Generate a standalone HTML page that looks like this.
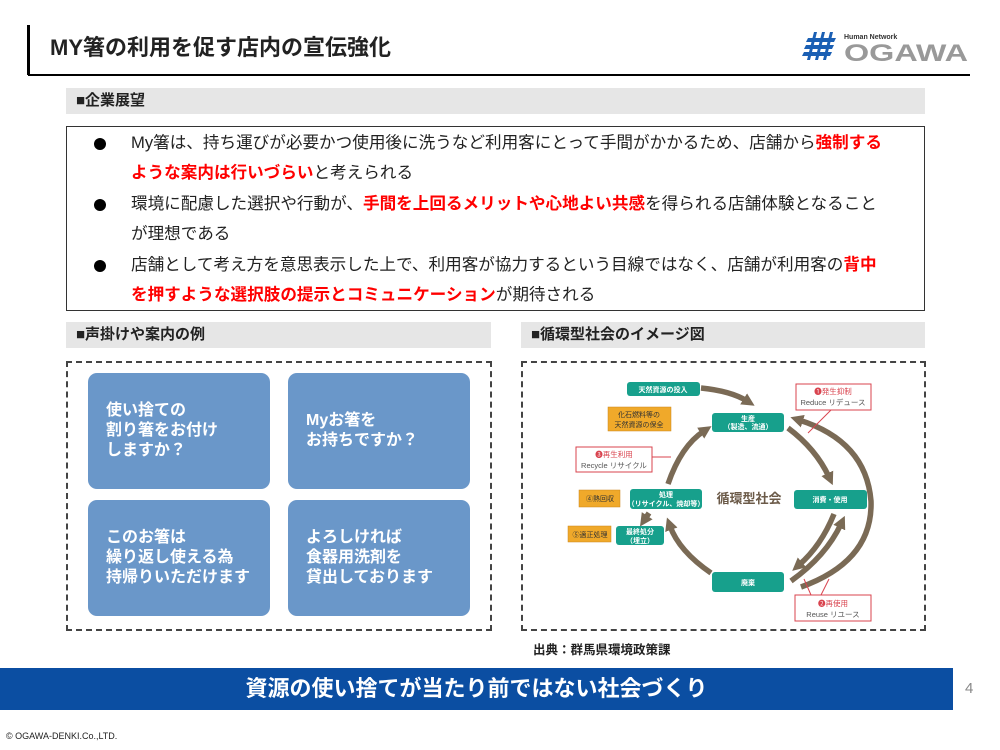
<!DOCTYPE html>
<html><head><meta charset="utf-8"><style>
*{margin:0;padding:0;box-sizing:border-box}
body{width:1000px;height:750px;background:#fff;position:relative;overflow:hidden;font-family:"Liberation Sans","Noto Sans CJK JP",sans-serif;color:#222}
.a{position:absolute}
.hdr{position:absolute;background:#e6e6e6;font-weight:bold;font-size:15px;padding-left:10px;line-height:26px}
.r{color:#f00;font-weight:bold}
.ln{position:absolute;left:131px;font-size:16.6px;white-space:nowrap;line-height:20px}
.bul{position:absolute;left:94px;width:12px;height:12px;border-radius:50%;background:#000}
.card{position:absolute;width:182px;height:116px;background:#6a97c9;border-radius:9px;color:#fff;font-weight:bold;font-size:16px;line-height:20px;padding-left:18px;display:flex;align-items:center}
.dash{position:absolute;border:2px dashed #444}
</style></head><body>
<div class="a" style="left:27px;top:25px;width:3px;height:50px;background:#000"></div>
<div class="a" style="left:28px;top:74px;width:942px;height:2px;background:#000"></div>
<div class="a" style="left:50px;top:30px;font-size:22px;font-weight:bold">MY箸の利用を促す店内の宣伝強化</div>
<svg class="a" style="left:800px;top:28px" width="175" height="36">
<g fill="#1a5fb4"><path d="M8 10h28l-2 4H6zM6 17h28l-2 4H4zM4 24h28l-2 4H2z"/><path d="M14 4h3l-7 28H7zM22 4h3l-7 28h-3zM30 4h3l-7 28h-3z"/></g>
<text x="44" y="11" font-size="7" font-weight="bold" fill="#333" font-family="Liberation Sans">Human Network</text>
<text x="44" y="33" font-size="24" font-weight="bold" fill="#999" font-family="Liberation Sans" textLength="124" lengthAdjust="spacingAndGlyphs">OGAWA</text>
</svg>
<div class="hdr" style="left:66px;top:88px;width:859px;height:26px">■企業展望</div>
<div class="a" style="left:66px;top:126px;width:859px;height:185px;border:1.5px solid #333"></div>
<div class="bul" style="top:138px"></div><div class="bul" style="top:199px"></div><div class="bul" style="top:260px"></div>
<div class="ln" style="top:133px">My箸は、持ち運びが必要かつ使用後に洗うなど利用客にとって手間がかかるため、店舗から<span class="r">強制する</span></div>
<div class="ln" style="top:163px"><span class="r">ような案内は行いづらい</span>と考えられる</div>
<div class="ln" style="top:194px">環境に配慮した選択や行動が、<span class="r">手間を上回るメリットや心地よい共感</span>を得られる店舗体験となること</div>
<div class="ln" style="top:224px">が理想である</div>
<div class="ln" style="top:255px">店舗として考え方を意思表示した上で、利用客が協力するという目線ではなく、店舗が利用客の<span class="r">背中</span></div>
<div class="ln" style="top:285px"><span class="r">を押すような選択肢の提示とコミュニケーション</span>が期待される</div>
<div class="hdr" style="left:66px;top:322px;width:425px">■声掛けや案内の例</div>
<div class="hdr" style="left:521px;top:322px;width:404px">■循環型社会のイメージ図</div>
<div class="dash" style="left:66px;top:361px;width:426px;height:270px"></div>
<div class="dash" style="left:521px;top:361px;width:405px;height:270px"></div>
<div class="card" style="left:88px;top:373px">使い捨ての<br>割り箸をお付け<br>しますか？</div>
<div class="card" style="left:288px;top:373px">Myお箸を<br>お持ちですか？</div>
<div class="card" style="left:88px;top:500px">このお箸は<br>繰り返し使える為<br>持帰りいただけます</div>
<div class="card" style="left:288px;top:500px">よろしければ<br>食器用洗剤を<br>貸出しております</div>
<svg class="a" style="left:521px;top:361px" width="405" height="270" font-family="Liberation Sans,Noto Sans CJK JP,sans-serif">
<defs><marker id="m" markerUnits="userSpaceOnUse" markerWidth="13" markerHeight="13" refX="4" refY="6.5" orient="auto"><path d="M0 0L13 6.5L0 13z" fill="#7a6a55"/></marker></defs>
<g fill="none" stroke="#7a6a55" stroke-width="5.5" marker-end="url(#m)">
<path d="M180 27 Q210 30 226 40"/>
<path d="M267 67 Q295 88 308 116"/>
<path d="M313 153 Q300 185 278 204"/>
<path d="M270 220 Q305 195 320 163"/>
<path d="M190 212 Q158 190 149 165"/>
<path d="M147 123 Q160 85 183 70"/>
<path d="M280 226 Q352 200 350 140 Q345 80 278 59"/>
<path d="M128 152 L124 158"/>
</g>
<g fill="#17a08c">
<rect x="106" y="21" width="73" height="14" rx="3"/><rect x="191" y="52" width="72" height="19" rx="3"/>
<rect x="273" y="129" width="73" height="19" rx="3"/><rect x="109" y="128" width="72" height="20" rx="3"/>
<rect x="95" y="165" width="48" height="19" rx="3"/><rect x="191" y="211" width="72" height="20" rx="3"/>
</g>
<g fill="#fff" font-size="7" font-weight="bold" text-anchor="middle">
<text x="142" y="31">天然資源の投入</text><text x="227" y="60">生産</text><text x="227" y="68">（製造、流通）</text>
<text x="309" y="141">消費・使用</text><text x="145" y="136">処理</text><text x="145" y="145">（リサイクル、焼却等）</text>
<text x="119" y="173">最終処分</text><text x="119" y="182">（埋立）</text><text x="227" y="224">廃棄</text></g>
<g fill="#f0a92a" stroke="#c9861a" stroke-width=".5">
<rect x="87" y="46" width="63" height="24"/><rect x="58" y="129" width="41" height="17"/><rect x="47" y="165" width="43" height="16"/></g>
<g font-size="7" text-anchor="middle" fill="#333"><text x="118" y="56">化石燃料等の</text><text x="118" y="66">天然資源の保全</text>
<text x="79" y="140">④熱回収</text><text x="69" y="176">⑤適正処理</text></g>
<text x="228" y="142" font-size="13" font-weight="bold" fill="#6b5a48" text-anchor="middle">循環型社会</text>
<g fill="#fff" stroke="#d9434e" stroke-width="1">
<rect x="275" y="23" width="75" height="26"/><rect x="55" y="86" width="76" height="25"/><rect x="274" y="234" width="76" height="26"/></g>
<g stroke="#d9434e" fill="none"><path d="M310 49 L287 72"/><path d="M131 96 L150 96"/><path d="M290 234 L283 218 M300 234 L308 218"/></g>
<g font-size="7.5" text-anchor="middle"><text x="312" y="33" fill="#d9434e">❶発生抑制</text><text x="312" y="44" fill="#555">Reduce リデュース</text>
<text x="93" y="96" fill="#d9434e">❸再生利用</text><text x="93" y="107" fill="#555">Recycle リサイクル</text>
<text x="312" y="245" fill="#d9434e">❷再使用</text><text x="312" y="256" fill="#555">Reuse リユース</text></g>
</svg>
<div class="a" style="left:533px;top:639px;font-size:12.5px;font-weight:bold">出典：群馬県環境政策課</div>
<div class="a" style="left:0;top:668px;width:953px;height:42px;background:#0b4ea2;color:#fff;font-weight:bold;font-size:22px;text-align:center;line-height:42px">資源の使い捨てが当たり前ではない社会づくり</div>
<div class="a" style="left:965px;top:680px;font-size:15px;color:#888">4</div>
<div class="a" style="left:6px;top:731px;font-size:9px">© OGAWA-DENKI.Co.,LTD.</div>
</body></html>
